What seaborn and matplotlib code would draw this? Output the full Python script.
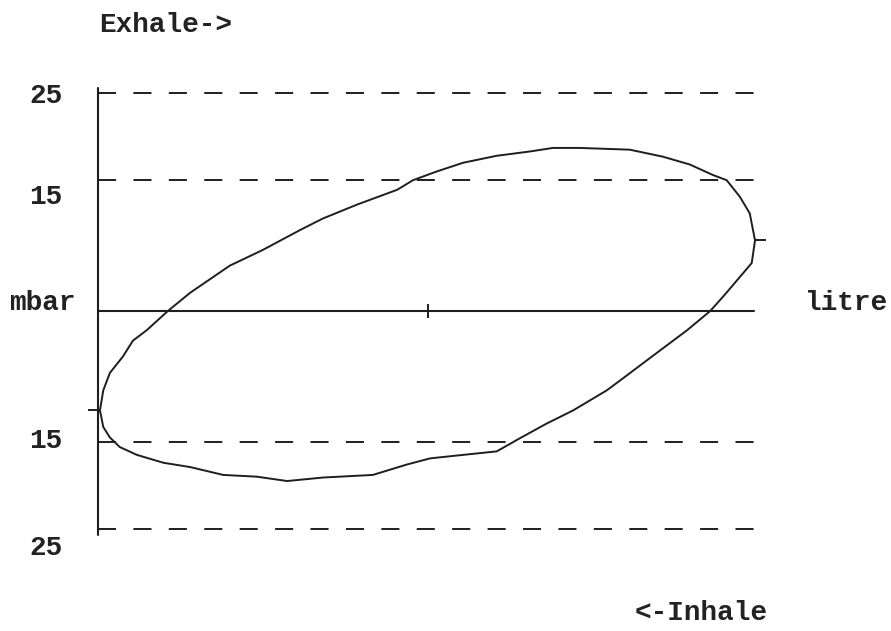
import matplotlib
matplotlib.use("Agg")
import matplotlib.pyplot as plt
import seaborn as sns
import pandas as pd

# ---- data ----
volume_litre = [0.003, 0.008, 0.018, 0.038, 0.053, 0.074, 0.106, 0.140, 0.200, 0.250,
                0.307, 0.341, 0.393, 0.454, 0.478, 0.514, 0.554, 0.605, 0.656, 0.690,
                0.731, 0.807, 0.857, 0.898, 0.933, 0.954, 0.974, 0.989, 0.997, 0.992,
                0.974, 0.948, 0.929, 0.894, 0.848, 0.797, 0.772, 0.721, 0.681, 0.640,
                0.605, 0.554, 0.504, 0.469, 0.417, 0.341, 0.287, 0.241, 0.190, 0.140,
                0.099, 0.059, 0.033, 0.018, 0.008, 0.003]
pressure_mbar = [-11.4, -9.1, -7.1, -5.2, -3.4, -2.2, 0.0, 2.1, 5.2, 7.0,
                 9.3, 10.6, 12.2, 13.9, 15.0, 16.0, 17.0, 17.8, 18.3, 18.7,
                 18.7, 18.5, 17.7, 16.8, 15.6, 15.0, 13.1, 11.2, 8.1, 5.5,
                 3.9, 1.6, 0.0, -2.2, -4.8, -7.7, -9.1, -11.4, -12.9, -14.6,
                 -16.1, -16.5, -16.9, -17.6, -18.8, -19.1, -19.5, -19.0, -18.8, -17.9,
                 -17.4, -16.5, -15.6, -14.5, -13.3, -11.4]
grid_levels = [25, 15, -15, -25]
tick_labels = ["25", "15", "15", "25"]
marker_points_x = [0.0, 0.997]
marker_points_y = [-11.4, 8.1]
mid_tick_x = 0.5

W, H = 891, 631
sns.set_theme(style="white")
plt.rcParams["font.family"] = ["Liberation Mono", "DejaVu Sans"]
plt.rcParams["lines.scale_dashes"] = False

fig = plt.figure(figsize=(W / 100, H / 100), dpi=100)
fig.patch.set_facecolor("white")

# axes placement: x 0..1 -> px 98..757 ; y zero at px 311
px_per_unit = 8.72
zero_px = 311
y_lo, y_hi = -26.5, 26.5
left_px, right_px = 98, 757
top_px = zero_px - y_hi * px_per_unit
height_px = (y_hi - y_lo) * px_per_unit
ax = fig.add_axes([left_px / W, 1 - (top_px + height_px) / H,
                   (right_px - left_px) / W, height_px / H])
ax.set_xlim(0, 1)
ax.set_ylim(y_lo, y_hi)
ax.axis("off")

ink = "#1e1e1e"

# dashed reference lines
for lvl in grid_levels:
    ax.plot([0, 0.996], [lvl, lvl], color=ink, lw=1.4,
            linestyle=(0, (13, 12.5)), clip_on=False)
# zero line
ax.plot([0, 0.996], [0, 0], color=ink, lw=1.5, clip_on=False)
# vertical axis
ax.plot([0, 0], [-25.7, 25.6], color=ink, lw=1.5, clip_on=False)

# pressure-volume loop
df = pd.DataFrame({"litre": volume_litre, "mbar": pressure_mbar})
sns.lineplot(data=df, x="litre", y="mbar", sort=False, estimator=None,
             color=ink, lw=1.4, ax=ax)
ax.set_xlabel("")
ax.set_ylabel("")

# tick marks
ax.plot([mid_tick_x], [0], marker="|", markersize=10, mew=1.4, color=ink, clip_on=False)
ax.plot([marker_points_x[0]], [marker_points_y[0]], marker=0, markersize=7, mew=1.4,
        color=ink, clip_on=False)
ax.plot([marker_points_x[1]], [marker_points_y[1]], marker=1, markersize=8, mew=1.4,
        color=ink, clip_on=False)

# labels
fs = 20
txt = dict(color="#222222", fontsize=fs, fontweight="bold", ha="center", va="center")
label_px = [(46, 96), (46, 197), (46, 441), (46, 548)]
for lab, (x, y) in zip(tick_labels, label_px):
    fig.text(x / W, 1 - y / H, lab, **txt)
fig.text(42 / W, 1 - 303 / H, "mbar", **txt)
fig.text(846 / W, 1 - 303 / H, "litre", **txt)
fig.text(166 / W, 1 - 25 / H, "Exhale->", **txt)
fig.text(701 / W, 1 - 613 / H, "<-Inhale", **txt)

fig.savefig("out.png", dpi=100, facecolor="white")
